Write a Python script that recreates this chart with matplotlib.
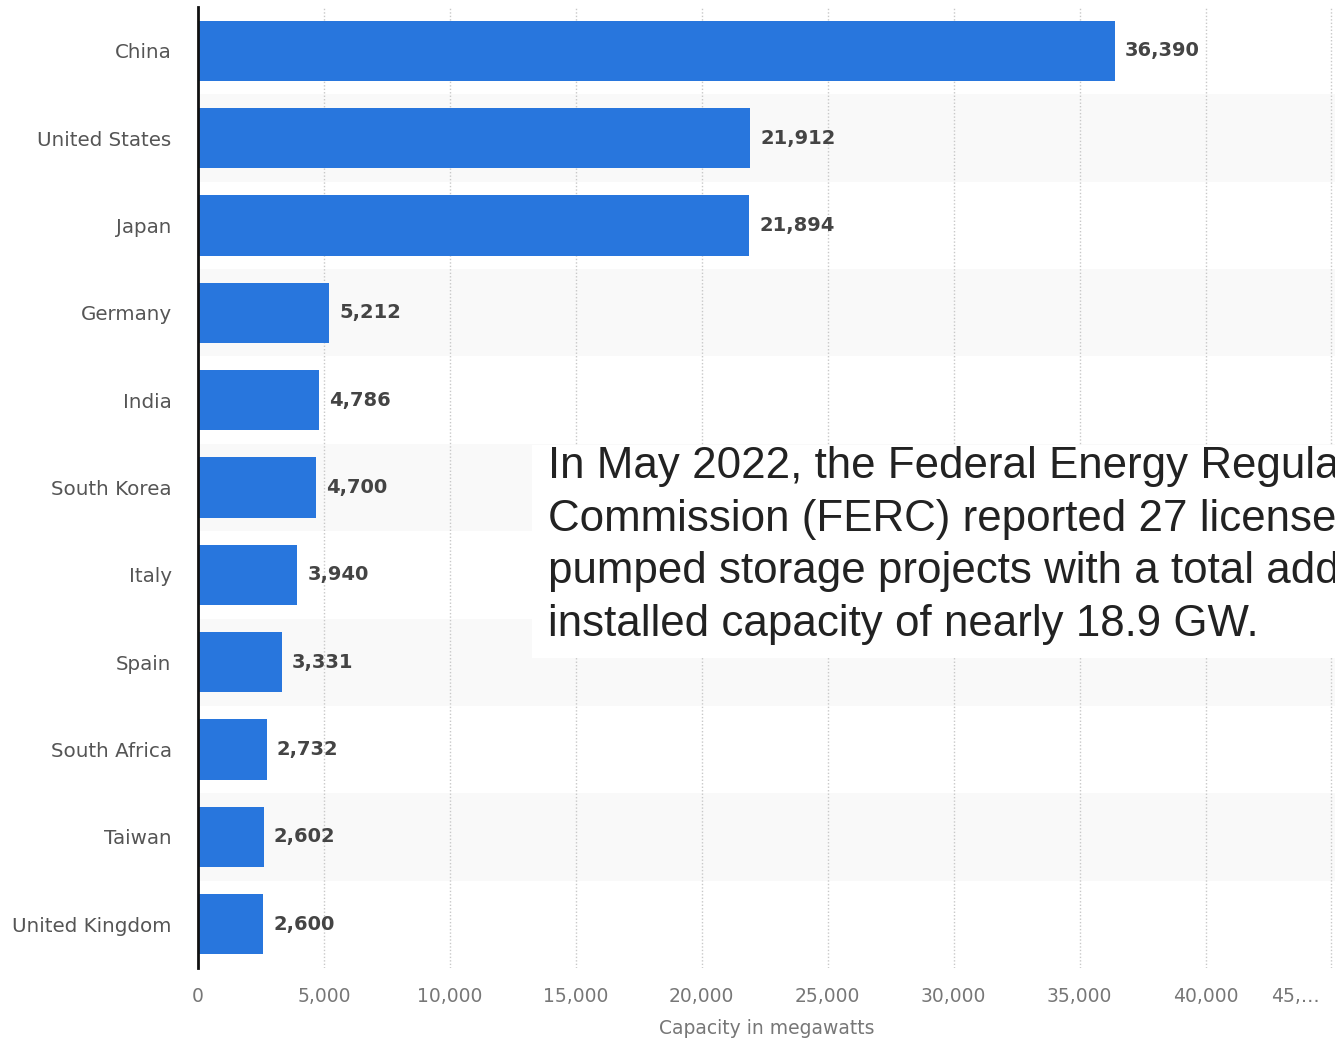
import matplotlib
matplotlib.use("Agg")
import matplotlib.pyplot as plt
from matplotlib.patches import Rectangle
from matplotlib.transforms import ScaledTranslation

countries = ["China", "United States", "Japan", "Germany", "India", "South Korea",
             "Italy", "Spain", "South Africa", "Taiwan", "United Kingdom"]
capacity_mw = [36390, 21912, 21894, 5212, 4786, 4700, 3940, 3331, 2732, 2602, 2600]
tick_values = [0, 5000, 10000, 15000, 20000, 25000, 30000, 35000, 40000, 45000]
tick_labels = ["0", "5,000", "10,000", "15,000", "20,000", "25,000", "30,000",
               "35,000", "40,000", "45,…"]
note = ("In May 2022, the Federal Energy Regulatory\n"
        "Commission (FERC) reported 27 licensed\n"
        "pumped storage projects with a total additional\n"
        "installed capacity of nearly 18.9 GW.")

W, H = 1335, 1043
fig = plt.figure(figsize=(W / 100, H / 100), dpi=100)
ax = fig.add_axes([198 / W, 1 - 968 / H, (W - 198) / W, (968 - 7) / H])

n = len(countries)
ypos = list(range(n))
ax.set_ylim(n - 0.5, -0.5)
ax.set_xlim(0, 45140)

# alternating row bands
for i in ypos:
    if i % 2 == 1:
        ax.axhspan(i - 0.5, i + 0.5, color="#f9f9f9", zorder=0, lw=0)

# dotted vertical grid
for v in tick_values[1:]:
    ax.axvline(v, color="#c8c8c8", lw=1.0, ls=(0, (1, 1.5)), zorder=1)

ax.barh(ypos, capacity_mw, height=0.69, color="#2876dd", zorder=2)

for y, v in zip(ypos, capacity_mw):
    ax.text(v + 400, y, f"{v:,}", va="center", ha="left", fontsize=14,
            fontweight="bold", color="#444444", family="DejaVu Sans", zorder=3)

ax.set_yticks(ypos)
ax.set_yticklabels(countries, fontsize=14.3, color="#555555", family="DejaVu Sans")
ax.set_xticks(tick_values)
ax.set_xticklabels(tick_labels, fontsize=13.5, color="#777777", family="DejaVu Sans")
ax.tick_params(axis="both", length=0)
ax.tick_params(axis="y", pad=19)
ax.tick_params(axis="x", pad=14)
last = ax.get_xticklabels()[-1]
last.set_transform(last.get_transform() + ScaledTranslation(-0.36, 0, fig.dpi_scale_trans))
ax.set_xlabel("Capacity in megawatts", fontsize=13.5, color="#777777",
              family="DejaVu Sans", labelpad=9)

for s in ["top", "right", "bottom"]:
    ax.spines[s].set_visible(False)
ax.spines["left"].set_linewidth(2)
ax.spines["left"].set_color("#111111")
ax.spines["left"].set_zorder(4)

# note box
fig.patches.append(Rectangle((532 / W, 1 - 658 / H), (W - 532) / W, (658 - 445) / H,
                             transform=fig.transFigure, facecolor="white",
                             edgecolor="none", zorder=5))
fig.text(548 / W, 1 - 446 / H, note, ha="left", va="top", fontsize=31.6,
         family=["Liberation Sans", "DejaVu Sans"],
         color="#222222", linespacing=1.36, zorder=6)

fig.savefig("out.png", dpi=100)
